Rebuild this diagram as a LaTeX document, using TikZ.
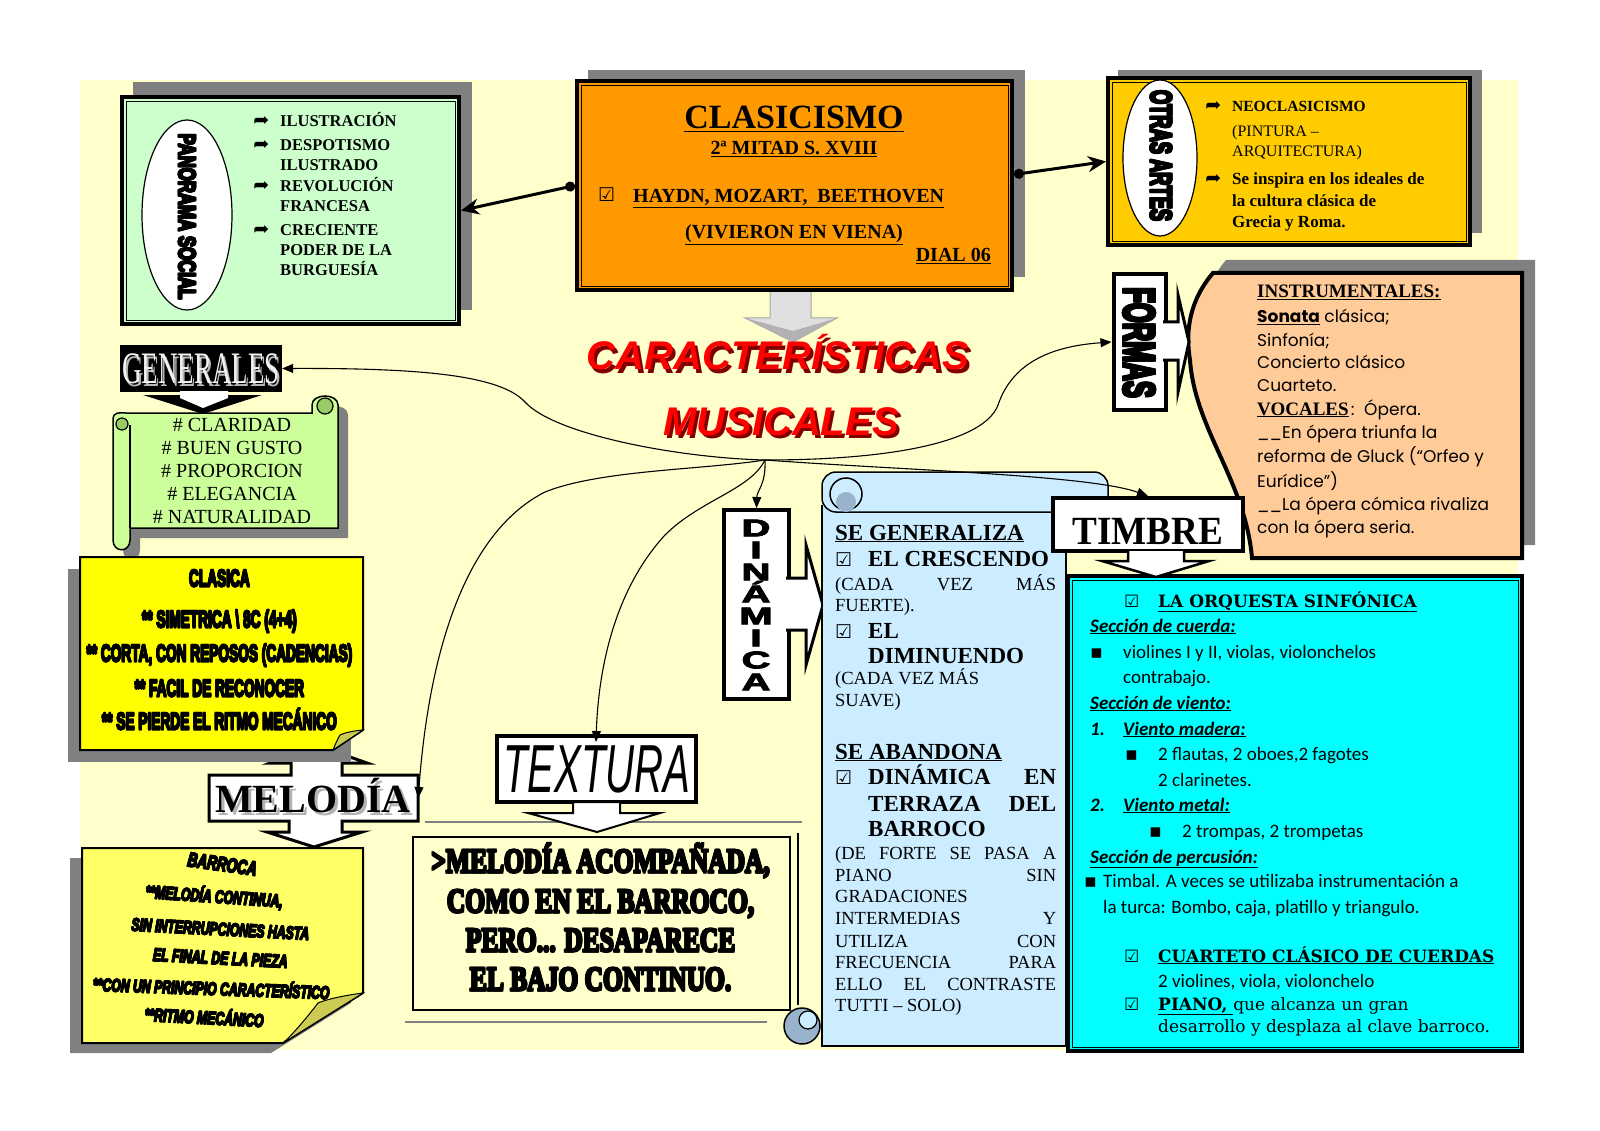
\documentclass[tikz,border=0pt]{standalone}
\usepackage{fontspec}
\usepackage{graphicx}
\usepackage{xcolor}
\usepackage{tikz}
\usetikzlibrary{arrows.meta,shapes.geometric}
\setmainfont{Liberation Serif}
\newfontfamily\arialfont{Liberation Sans}
\newfontfamily\heavysans[FakeBold=3.5]{Liberation Sans}
\newfontfamily\heavyserif[FakeBold=3]{Liberation Serif}
\newfontfamily\gothicfont{Poppins}
\newfontfamily\calibrifont{Carlito}
\newfontfamily\cambriafont{DejaVu Serif}
\newfontfamily\symfont{DejaVu Sans}
\definecolor{bgyellow}{HTML}{FFFFCC}
\definecolor{shadowgray}{HTML}{808080}
\definecolor{panogreen}{HTML}{CCFFCC}
\definecolor{clasorange}{HTML}{FF9900}
\definecolor{otrasgold}{HTML}{FFCC00}
\definecolor{scrollgreen}{HTML}{CCFF99}
\definecolor{curlgreen}{HTML}{99CC66}
\definecolor{noteyellow}{HTML}{FFFF00}
\definecolor{barrocayellow}{HTML}{FFFF66}
\definecolor{foldyellow}{HTML}{CCCC55}
\definecolor{formaspeach}{HTML}{FFCC99}
\definecolor{scrollblue}{HTML}{CCECFF}
\definecolor{curlblue}{HTML}{99B3CC}
\definecolor{timbrecyan}{HTML}{00FFFF}
\definecolor{titlered}{HTML}{FF0000}
\definecolor{titleshadow}{HTML}{800000}
\newcommand{\fsz}[1]{\fontsize{#1}{#1}\selectfont}
\newcommand{\squeeze}[2]{\scalebox{#1}[1]{#2}}
\newcommand{\heavy}[2]{\rlap{\hspace{#1}#2}\rlap{\raisebox{#1}{#2}}\rlap{\hspace{#1}\raisebox{#1}{#2}}\rlap{\hspace{0.5\dimexpr#1\relax}\raisebox{0.5\dimexpr#1\relax}{#2}}#2}
\newcommand{\chk}{{\symfont ☑}}
\newcommand{\curl}{\llap{{\symfont\bfseries\fsz{19}➦}\hspace{11pt}}}
\newcommand{\sq}{{\symfont ▪}}
\newcommand{\dropped}[3]{\rlap{\hspace{#2}\raisebox{-#2}{\color{#1}#3}}#3}

\begin{document}
\begin{tikzpicture}[x=1pt,y=-1pt,
  boxline/.style={draw=black,line width=4pt,inner sep=0pt},
  conn/.style={line width=1.1pt,-{Triangle[length=11pt,width=9pt]}},
  dotconn/.style={line width=3pt,{Circle[length=10pt]}-{Stealth[length=18pt,width=16pt]}},
  blockarrow/.style={draw=black,line width=2.5pt,fill=white,line join=miter},
  shadowfill/.style={fill=shadowgray},
  txt/.style={inner sep=0pt,anchor=base west}]
\useasboundingbox (0,0) rectangle (1600,1131);
\fill[white] (0,0) rectangle (1600,1131);
\fill[bgyellow] (80,80) rectangle (1518,1050);

\fill[shadowfill] (133,82) rectangle (472,310);
\node[boxline,fill=panogreen,minimum width=337pt,minimum height=227pt] (panorama) at (290.5,210.5) {};
\draw[line width=0.8pt] ([shift={(6,6)}]panorama.north west) rectangle ([shift={(-6,-6)}]panorama.south east);
\node[ellipse,draw,fill=white,line width=1.2pt,minimum width=90pt,minimum height=190pt] (panoEll) at (187,215) {};
\node[rotate=-90,inner sep=0pt,font={\heavysans\bfseries\fsz{24}}] (panoTxt) at (187,216) {\squeeze{0.7}{\heavy{1.3pt}{PANORAMA SOCIAL}}};
\foreach \yb/\lbl [count=\i] in {127/{\curl ILUSTRACIÓN},151/{\curl DESPOTISMO},171/ILUSTRADO,192/{\curl REVOLUCIÓN},212/FRANCESA,236/{\curl CRECIENTE},256/PODER DE LA,276/BURGUESÍA}
  \node[txt,font={\bfseries\fsz{16.5}}] (pano\i) at (280,\yb) {\lbl};

\filldraw[fill=gray!25,draw=gray!70,line width=1pt] (770,280) -- (811,280) -- (811,318) -- (837,318) -- (793,342) -- (745,318) -- (770,318) -- cycle;
\fill[gray!60] (745,318) -- (793,342) -- (837,318) -- (793,331) -- cycle;
\fill[shadowfill] (588,70) rectangle (1025,277);
\node[boxline,fill=clasorange,minimum width=435pt,minimum height=209pt] (clasicismo) at (794.5,185.5) {};
\draw[line width=0.8pt] ([shift={(6,6)}]clasicismo.north west) rectangle ([shift={(-6,-6)}]clasicismo.south east);
\node[txt,anchor=base,font={\bfseries\fsz{34}}] (clasTitle) at (794,129) {\underline{CLASICISMO}};
\node[txt,anchor=base,font={\bfseries\fsz{20}}] (clasDate) at (794,155) {\underline{2ª MITAD S. XVIII}};
\node[txt,font={\fsz{19}}] (clasChk) at (598,202) {\chk};
\node[txt,font={\bfseries\fsz{20}}] (clasNames) at (633,203) {\underline{HAYDN, MOZART,\ \ BEETHOVEN}};
\node[txt,anchor=base,font={\bfseries\fsz{20}}] (clasViena) at (794,239) {\underline{(VIVIERON EN VIENA)}};
\node[txt,anchor=base east,font={\bfseries\fsz{20}}] (clasDial) at (991,262) {\underline{DIAL 06}};

\fill[shadowfill] (1118,70) rectangle (1482,233);
\node[boxline,fill=otrasgold,minimum width=362pt,minimum height=167pt] (otras) at (1289,161.5) {};
\draw[line width=0.8pt] ([shift={(6,6)}]otras.north west) rectangle ([shift={(-6,-6)}]otras.south east);
\node[ellipse,draw,fill=white,line width=1.2pt,minimum width=74pt,minimum height=156pt] (otrasEll) at (1160,158) {};
\node[rotate=-90,inner sep=0pt,font={\heavysans\bfseries\fsz{30}}] (otrasTxt) at (1161,155) {\squeeze{0.61}{\heavy{1.6pt}{OTRAS ARTES}}};
\foreach \yb/\lbl [count=\i] in {112/{\bfseries\fsz{15.5}\curl NEOCLASICISMO},137/{\fsz{16}(PINTURA –},157/{\fsz{16}ARQUITECTURA)},185/{\bfseries\fsz{17}\curl Se inspira en los ideales de},207/{\bfseries\fsz{17}la cultura clásica de},228/{\bfseries\fsz{17}Grecia y Roma.}}
  \node[txt] (otrasL\i) at (1232,\yb) {\lbl};

\node[anchor=base,inner sep=0pt,font={\arialfont\bfseries\itshape\fsz{40}},text=titlered] (titleA) at (778,370) {\dropped{titleshadow}{3pt}{CARACTERÍSTICAS}};
\node[anchor=base,inner sep=0pt,font={\arialfont\bfseries\itshape\fsz{40}},text=titlered] (titleB) at (781,435) {\dropped{titleshadow}{3pt}{MUSICALES}};

\node[fill=black,minimum width=162pt,minimum height=47pt,inner sep=0pt] (generales) at (201,368.5) {};
\node[anchor=base,inner sep=0pt,font={\fsz{45}},text=gray!10] (generalesTxt) at (201,383) {\squeeze{0.6}{\dropped{gray!55}{3pt}{GENERALES}}};
\fill[black] (143,395) -- (262,395) -- (203,414) -- cycle;
\fill[white] (180,391) -- (228,391) -- (228,398) -- (203,408) -- (180,398) -- cycle;

\begin{scope}[shift={(10,10)}]
  \fill[shadowfill] (113,420) -- (113,413) -- (312,413) -- (312,405) .. controls (312,393) and (338,393) .. (338,405) -- (338,528) -- (130,528) -- (130,540) .. controls (130,553) and (113,553) .. (113,540) -- cycle;
\end{scope}
\draw[fill=scrollgreen,line width=1.5pt] (113,420) .. controls (113,411) and (120,413) .. (126,413) -- (312,413) -- (312,405) .. controls (312,393) and (338,393) .. (338,405) -- (338,528) -- (130,528) -- (130,540) .. controls (130,553) and (113,553) .. (113,540) -- cycle;
\draw[fill=curlgreen,line width=1.2pt] (325,406) circle[radius=8];
\draw[fill=curlgreen,line width=1.2pt] (122,424) circle[radius=6];
\draw[line width=1.2pt] (130,425) -- (130,528);
\foreach \yb/\lbl [count=\i] in {431/CLARIDAD,454/BUEN GUSTO,477/PROPORCION,500/ELEGANCIA,523/NATURALIDAD}
  \node[anchor=base,inner sep=0pt,font={\fsz{20}}] (gen\i) at (232,\yb) {\# \lbl};

\draw[blockarrow,line width=3pt] (209,775) -- (291,775) -- (291,763) -- (270,763) -- (316,745) -- (367,763) -- (342,763) -- (342,775) -- (418,775) -- (418,821) -- (342,821) -- (342,832) -- (362,832) -- (314,847) -- (267,832) -- (289,832) -- (289,821) -- (209,821) -- cycle;
\node[minimum width=209pt,minimum height=46pt,inner sep=0pt] (melodia) at (313.5,798) {};
\node[anchor=base,inner sep=0pt,font={\bfseries\fsz{40}}] (melodiaTxt) at (313,812) {\dropped{gray!60}{3pt}{MELODÍA}};

\fill[shadowfill] (68,569) rectangle (351,762);
\draw[fill=noteyellow,line width=2pt] (80,557) -- (363,557) -- (363,730) -- (333,750) -- (80,750) -- cycle;
\filldraw[fill=foldyellow,line width=1pt] (363,730) .. controls (352,731) and (344,733) .. (340,735) .. controls (337,740) and (335,745) .. (333,750) -- cycle;
\foreach \yb/\lbl [count=\i] in {587/CLASICA,628/{** SIMETRICA \textbackslash{} 8C (4+4)},662/{** CORTA, CON REPOSOS (CADENCIAS)},697/{** FACIL DE RECONOCER},730/{** SE PIERDE EL RITMO MECÁNICO}}
  \node[anchor=base,inner sep=0pt,font={\heavysans\bfseries\fsz{24}}] (cl\i) at (219,\yb) {\squeeze{0.57}{\heavy{1.2pt}{\lbl}}};

\fill[shadowfill] (70,858) -- (351,858) -- (351,1003) -- (271,1053) -- (70,1053) -- cycle;
\draw[fill=barrocayellow,line width=2pt] (82,848) -- (363,848) -- (363,993) -- (283,1043) -- (82,1043) -- cycle;
\filldraw[fill=foldyellow,line width=1pt] (363,993) .. controls (340,996) and (325,1000) .. (318,1003) .. controls (305,1020) and (292,1035) .. (283,1043) -- cycle;
\foreach \xc/\yc/\rot/\lbl [count=\i] in {222/864/-8/{\fsz{20}BARROCA},214/896/-4/{**MELODÍA CONTINUA,},220/929/-3/{SIN INTERRUPCIONES HASTA},220/958/-3/{EL FINAL DE LA PIEZA},211/987/-2/{**CON UN PRINCIPIO CARACTERÍSTICO},204/1016/-3/{**RITMO MECÁNICO}}
  \node[rotate=\rot,inner sep=0pt,font={\heavysans\bfseries\itshape\fsz{18}}] (bar\i) at (\xc,\yc) {\squeeze{0.68}{\heavy{0.9pt}{\lbl}}};

\draw[gray,line width=1.2pt] (425,822) -- (802,822);
\draw[gray,line width=1.2pt] (405,1022) -- (767,1022);
\draw[line width=1.2pt] (798,833) -- (798,1005);
\node[boxline,fill=white,minimum width=199pt,minimum height=66pt] (textura) at (596,769) {};
\node[anchor=base,inner sep=0pt,font={\arialfont\itshape\fsz{68}}] (texturaLbl) at (597,792) {\squeeze{0.59}{TEXTURA}};
\draw[blockarrow,line width=2pt] (573,802) -- (620,802) -- (620,813) -- (660,813) -- (597,832) -- (528,813) -- (573,813) -- cycle;
\node[draw,line width=1.5pt,minimum width=377pt,minimum height=173pt,inner sep=0pt] (texturaBox) at (601.5,923.5) {};
\foreach \yb/\lbl [count=\i] in {873/{>MELODÍA ACOMPAÑADA,},913/{COMO EN EL BARROCO,},952/{PERO... DESAPARECE},991/{EL BAJO CONTINUO.}}
  \node[anchor=base,inner sep=0pt,font={\heavyserif\bfseries\fsz{34}}] (tex\i) at (600,\yb) {\squeeze{0.75}{\heavy{1.5pt}{\lbl}}};

\node[boxline,fill=white,minimum width=65pt,minimum height=189pt] (dinamica) at (756.5,604.5) {};
\draw[blockarrow,line width=3pt] (786,578) -- (806,578) -- (806,545) -- (823,605) -- (806,665) -- (806,630) -- (786,630);
\node[align=center,inner sep=0pt,xscale=1.65,font={\heavysans\bfseries\fontsize{24}{22}\selectfont}] (dinamicaTxt) at (756,605) {D\\I\\N\\Á\\M\\I\\C\\A};

\draw[fill=scrollblue,line width=1.5pt] (822,505) -- (822,1046) -- (1066,1046) -- (1066,505);
\draw[fill=scrollblue,line width=1.5pt,rounded corners=14pt] (822,472) rectangle (1108,512);
\draw[fill=scrollblue,line width=1.5pt] (846,494) circle[radius=16];
\fill[curlblue] (846,502) circle[radius=10];
\draw[fill=curlblue,line width=1.5pt] (802,1026) circle[radius=18];
\draw[fill=scrollblue,line width=1.2pt] (808,1020) circle[radius=9];
\foreach \xb/\yb/\lbl [count=\i] in {
  835/540/{\bfseries\fsz{23}\underline{SE GENERALIZA}},
  868/566/{\bfseries\fsz{23}EL CRESCENDO},
  835/590/{\makebox[221pt][s]{(CADA VEZ MÁS}},
  835/611/{FUERTE).},
  868/638/{\bfseries\fsz{23}EL},
  868/663/{\bfseries\fsz{23}DIMINUENDO},
  835/684/{(CADA VEZ MÁS},
  835/706/{SUAVE)},
  835/759/{\bfseries\fsz{23}\underline{SE ABANDONA}},
  868/784/{\bfseries\fsz{23}\makebox[188pt][s]{DINÁMICA EN}},
  868/811/{\bfseries\fsz{23}\makebox[188pt][s]{TERRAZA DEL}},
  868/836/{\bfseries\fsz{23}BARROCO},
  835/859/{\makebox[221pt][s]{(DE FORTE SE PASA A}},
  835/881/{\makebox[221pt][s]{PIANO SIN}},
  835/902/{GRADACIONES},
  835/924/{\makebox[221pt][s]{INTERMEDIAS Y}},
  835/947/{\makebox[221pt][s]{UTILIZA CON}},
  835/968/{\makebox[221pt][s]{FRECUENCIA PARA}},
  835/990/{\makebox[221pt][s]{ELLO EL CONTRASTE}},
  835/1011/{TUTTI – SOLO)}}
  \node[txt,font={\fsz{18.5}}] (dyn\i) at (\xb,\yb) {\lbl};
\foreach \yb [count=\i] in {566,638,784}
  \node[txt,font={\fsz{19}}] (dynChk\i) at (835,\yb) {\chk};

\fill[shadowfill] (1226,260) -- (1535,260) -- (1535,545) -- (1265,545) .. controls (1258,467) and (1208,417) .. (1203,347) .. controls (1198,317) and (1203,287) .. (1226,260) -- cycle;
\draw[fill=formaspeach,line width=4pt] (1213,273) -- (1522,273) -- (1522,558) -- (1252,558) .. controls (1245,480) and (1195,430) .. (1190,360) .. controls (1185,330) and (1190,300) .. (1213,273) -- cycle;
\foreach \yb/\lbl [count=\i] in {
  298/{\rmfamily\bfseries\fsz{19}\underline{INSTRUMENTALES:}},
  323/{\underline{\bfseries Sonata} clásica;},
  346/{Sinfonía;},
  368/{Concierto clásico},
  391/{Cuarteto.},
  415/{{\rmfamily\bfseries\fsz{19}\underline{VOCALES}}\,{\itshape :}\ \ Ópera.},
  438/{\_\_En ópera triunfa la},
  462/{reforma de Gluck (“Orfeo y},
  487/{Eurídice”)},
  510/{\_\_La ópera cómica rivaliza},
  533/{con la ópera seria.}}
  \node[txt,font={\gothicfont\fsz{17}}] (for\i) at (1257,\yb) {\lbl};

\node[boxline,fill=timbrecyan,minimum width=454pt,minimum height=475pt] (timbreBox) at (1295,813.5) {};
\draw[line width=0.8pt] ([shift={(6,6)}]timbreBox.north west) rectangle ([shift={(-6,-6)}]timbreBox.south east);
\foreach \xb/\yb/\lbl [count=\i] in {
  1124/607/{\fsz{17}\chk},
  1158/607/{\cambriafont\bfseries\fsz{17}\underline{LA ORQUESTA SINFÓNICA}},
  1090/632/{\bfseries\itshape\underline{Sección de cuerda:}},
  1090/658/{\sq},
  1123/658/{violines I y II, violas, violonchelos},
  1123/683/{contrabajo.},
  1090/709/{\bfseries\itshape\underline{Sección de viento:}},
  1090/735/{\bfseries\itshape 1.},
  1123/735/{\bfseries\itshape\underline{Viento madera:}},
  1125/760/{\sq},
  1158/760/{2 flautas, 2 oboes,2 fagotes},
  1158/786/{2 clarinetes.},
  1090/811/{\bfseries\itshape 2.},
  1123/811/{\bfseries\itshape\underline{Viento metal:}},
  1149/837/{\sq},
  1182/837/{2 trompas, 2 trompetas},
  1090/863/{\bfseries\itshape\underline{Sección de percusión:}},
  1084/887/{\sq},
  1103/887/{Timbal. A veces se utilizaba instrumentación a},
  1103/913/{la turca: Bombo, caja, platillo y triangulo.},
  1124/962/{\fsz{17}\chk},
  1158/962/{\cambriafont\bfseries\fsz{17}\underline{CUARTETO CLÁSICO DE CUERDAS}},
  1158/987/{2 violines, viola, violonchelo},
  1124/1010/{\fsz{17}\chk},
  1158/1010/{\cambriafont\fsz{17}{\bfseries\underline{PIANO,\ }}que alcanza un gran},
  1158/1032/{\cambriafont\fsz{17}desarrollo y desplaza al clave barroco.}}
  \node[txt,font={\calibrifont\fsz{19}}] (tim\i) at (\xb,\yb) {\lbl};

\node[boxline,fill=white,minimum width=190pt,minimum height=53pt] (timbre) at (1148,524.5) {};
\node[anchor=base,inner sep=0pt,font={\bfseries\fsz{40}}] (timbreTxt) at (1148,544) {\squeeze{0.93}{TIMBRE}};
\draw[blockarrow,line width=2.5pt] (1128,551) -- (1128,561) -- (1102,561) -- (1156,577) -- (1209,561) -- (1184,561) -- (1184,551);

\node[boxline,fill=white,minimum width=52pt,minimum height=136pt] (formas) at (1139.5,342) {};
\draw[blockarrow,line width=3pt] (1163,322) -- (1178,322) -- (1178,295) -- (1189,342) -- (1178,392) -- (1178,360) -- (1163,360);
\node[rotate=-90,inner sep=0pt,font={\heavysans\bfseries\fsz{44}}] (formasTxt) at (1139,342) {\squeeze{0.58}{\heavy{2pt}{FORMAS}}};

\draw[dotconn] (clasicismo.west) -- (panorama.east);
\draw[dotconn] ([yshift=11pt]clasicismo.east) -- (otras.west);
\coordinate (hub) at (765,460);
\draw[conn] (hub) .. controls (680,458) and (555,435) .. (525,402) .. controls (500,375) and (420,368) .. (generales.east);
\draw[conn] (hub) .. controls (900,460) and (985,440) .. (998,405) .. controls (1010,370) and (1040,347) .. (formas.west);
\draw[conn] (hub) .. controls (766,485) and (757,490) .. (dinamica.north);
\draw[conn] (hub) .. controls (750,490) and (700,500) .. (665,535) .. controls (610,595) and (598,680) .. ([yshift=-8pt]textura.north);
\draw[conn] (hub) .. controls (700,470) and (600,470) .. (545,492) .. controls (470,530) and (430,640) .. (melodia.east);
\draw[conn] (hub) .. controls (900,470) and (1090,475) .. (timbre.north);
\end{tikzpicture}
\end{document}
